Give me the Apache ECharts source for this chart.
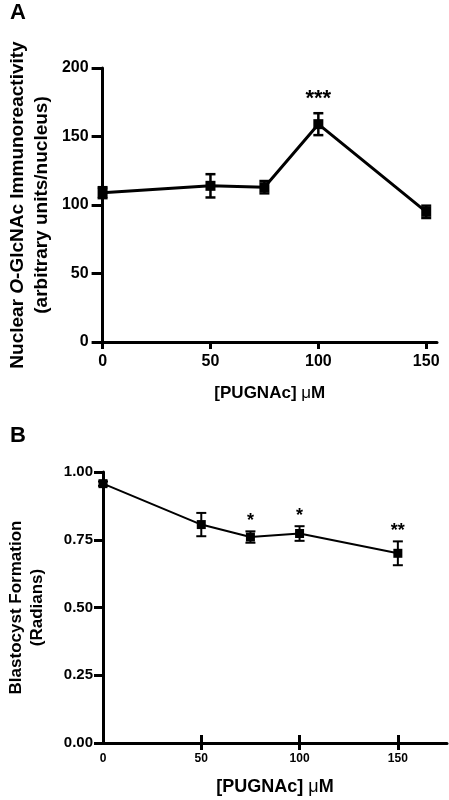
<!DOCTYPE html>
<html><head><meta charset="utf-8">
<script src="https://cdn.jsdelivr.net/npm/echarts@6/dist/echarts.min.js"></script>
<style>html,body{margin:0;padding:0;background:#fff}#c{width:449px;height:800px}</style>
</head><body><div id="c"></div>
<script>
// Panel A data
const doseA = [0, 50, 75, 100, 150];
const meanA = [109, 114, 113, 159, 95];
const semA = [4, 8.5, 4.5, 8, 4.5];
const sigA = ['', '', '', '***', ''];
const xTicksA = [0, 50, 100, 150];
const yTicksA = [0, 50, 100, 150, 200];
// Panel B data
const doseB = [0, 50, 75, 100, 150];
const meanB = [0.957, 0.806, 0.760, 0.773, 0.700];
const semB = [0.008, 0.043, 0.021, 0.027, 0.044];
const sigB = ['', '', '*', '*', '**'];
const xTicksB = [0, 50, 100, 150];
const xCrossTicksB = [50, 100, 150];
const yTicksB = [0, 0.25, 0.5, 0.75, 1.0];

const FF = "'Liberation Sans', Arial, sans-serif";
const BLK = '#000';

function errRender(sig, capW, lw, starSize, starGap) {
  return function (params, api) {
    const x = api.value(0);
    const lo = api.coord([x, api.value(1)]);
    const hi = api.coord([x, api.value(2)]);
    const i = api.value(3);
    const children = [
      {type: 'line', shape: {x1: lo[0], y1: lo[1], x2: hi[0], y2: hi[1]}, style: {stroke: BLK, lineWidth: lw}},
      {type: 'line', shape: {x1: lo[0] - capW / 2, y1: lo[1], x2: lo[0] + capW / 2, y2: lo[1]}, style: {stroke: BLK, lineWidth: lw}},
      {type: 'line', shape: {x1: hi[0] - capW / 2, y1: hi[1], x2: hi[0] + capW / 2, y2: hi[1]}, style: {stroke: BLK, lineWidth: lw}}
    ];
    if (sig[i]) {
      children.push({type: 'text', style: {text: sig[i], x: hi[0], y: hi[1] - starGap, align: 'center', verticalAlign: 'middle', fill: BLK, font: 'bold ' + starSize + 'px ' + FF}});
    }
    return {type: 'group', children: children};
  };
}

const chart = echarts.init(document.getElementById('c'), null, {renderer: 'canvas'});
const axisTitle = {
  b: {fontFamily: FF, fontWeight: 'bold', color: BLK},
  i: {fontFamily: FF, fontWeight: 'bold', fontStyle: 'italic', color: BLK},
  m: {fontFamily: FF, fontWeight: 'normal', color: BLK}
};
function rich(size, lh) {
  const r = {};
  for (const k in axisTitle) r[k] = Object.assign({fontSize: size, lineHeight: lh}, axisTitle[k]);
  return r;
}

chart.setOption({
  animation: false,
  backgroundColor: '#fff',
  title: [
    {text: 'A', left: 10, top: 2, padding: 0, textStyle: {fontFamily: FF, fontSize: 22, fontWeight: 'bold', color: BLK}},
    {text: 'B', left: 10, top: 425, padding: 0, textStyle: {fontFamily: FF, fontSize: 22, fontWeight: 'bold', color: BLK}}
  ],
  grid: [
    {left: 86, top: 68, width: 351, height: 274},
    {left: 94, top: 472, width: 353, height: 271}
  ],
  xAxis: [
    {
      gridIndex: 0, type: 'value', min: 0, max: 155,
      axisLine: {show: true, lineStyle: {color: BLK, width: 3}},
      axisTick: {show: true, customValues: xTicksA, length: 7, lineStyle: {color: BLK, width: 3}},
      axisLabel: {customValues: xTicksA, fontFamily: FF, fontSize: 16, fontWeight: 'bold', color: BLK, margin: 12},
      splitLine: {show: false},
      name: '{b|[PUGNAc] }{m|μ}{b|M}', nameLocation: 'middle', nameGap: 41,
      nameTextStyle: {rich: rich(17, 20)}
    },
    {
      gridIndex: 1, type: 'value', min: 0, max: 175,
      axisLine: {show: true, lineStyle: {color: BLK, width: 3}},
      axisTick: {show: true, customValues: xCrossTicksB, length: 7, lineStyle: {color: BLK, width: 3}},
      axisLabel: {customValues: xTicksB, fontFamily: FF, fontSize: 12, fontWeight: 'bold', color: BLK, margin: 10},
      splitLine: {show: false},
      name: '{b|[PUGNAc] }{m|μ}{b|M}', nameLocation: 'middle', nameGap: 34,
      nameTextStyle: {rich: rich(18, 20)}
    },
    {
      gridIndex: 1, type: 'value', min: 0, max: 175, position: 'bottom',
      axisLine: {show: false},
      axisTick: {show: true, inside: true, customValues: xCrossTicksB, length: 8, lineStyle: {color: BLK, width: 3}},
      axisLabel: {show: false},
      splitLine: {show: false}
    }
  ],
  yAxis: [
    {
      gridIndex: 0, type: 'value', min: 0, max: 200, interval: 50,
      axisLine: {show: true, lineStyle: {color: BLK, width: 3}},
      axisTick: {show: true, customValues: yTicksA, length: 11, lineStyle: {color: BLK, width: 3}},
      axisLabel: {customValues: yTicksA, fontFamily: FF, fontSize: 16, fontWeight: 'bold', color: BLK, margin: 14},
      splitLine: {show: false},
      name: '{b|Nuclear }{i|O}{b|-GlcNAc Immunoreactivity}\n{b|(arbitrary units/nucleus)}',
      nameLocation: 'middle', nameGap: 41,
      nameTextStyle: {rich: rich(19, 24)}
    },
    {
      gridIndex: 1, type: 'value', min: 0, max: 1, interval: 0.25,
      axisLine: {show: true, lineStyle: {color: BLK, width: 3}},
      axisTick: {show: true, customValues: yTicksB, length: 9, lineStyle: {color: BLK, width: 3}},
      axisLabel: {customValues: yTicksB, formatter: v => v.toFixed(2), fontFamily: FF, fontSize: 15, fontWeight: 'bold', color: BLK, margin: 10},
      splitLine: {show: false},
      name: '{b|Blastocyst Formation}\n{b|(Radians)}',
      nameLocation: 'middle', nameGap: 55,
      nameTextStyle: {rich: rich(17, 21)}
    }
  ],
  series: [
    {
      type: 'custom', xAxisIndex: 0, yAxisIndex: 0, z: 3,
      data: doseA.map((d, i) => [d, meanA[i] - semA[i], meanA[i] + semA[i], i]),
      encode: {x: 0, y: [1, 2]},
      renderItem: errRender(sigA, 10, 2.5, 22, 14)
    },
    {
      type: 'line', xAxisIndex: 0, yAxisIndex: 0, z: 4,
      data: doseA.map((d, i) => [d, meanA[i]]),
      symbol: 'rect', symbolSize: 10,
      lineStyle: {color: BLK, width: 3},
      itemStyle: {color: BLK}
    },
    {
      type: 'custom', xAxisIndex: 1, yAxisIndex: 1, z: 3,
      data: doseB.map((d, i) => [d, meanB[i] - semB[i], meanB[i] + semB[i], i]),
      encode: {x: 0, y: [1, 2]},
      renderItem: errRender(sigB, 10, 2, 18, 10)
    },
    {
      type: 'line', xAxisIndex: 1, yAxisIndex: 1, z: 4,
      data: doseB.map((d, i) => [d, meanB[i]]),
      symbol: 'rect', symbolSize: 9,
      lineStyle: {color: BLK, width: 2},
      itemStyle: {color: BLK}
    }
  ]
});
</script>
</body></html>
